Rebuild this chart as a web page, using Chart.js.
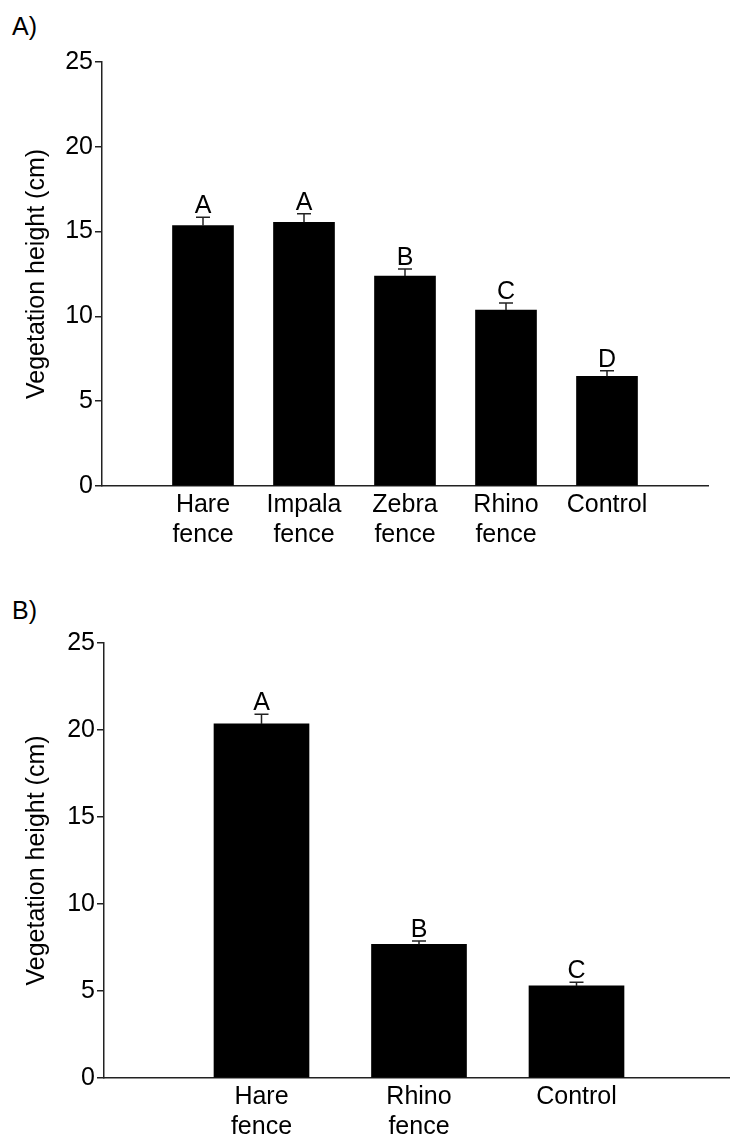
<!DOCTYPE html>
<html lang="en">
<head>
  <meta charset="UTF-8" />
  <title>Vegetation height</title>
  <script src="https://cdn.jsdelivr.net/npm/chart.js"></script>
  <style>
    body { margin: 0; background: #fff; font-family: "Liberation Sans", Arial, sans-serif; }
    #wrap { position: relative; width: 730px; height: 1137px; overflow: hidden; }
    .panel { position: absolute; left: 0; }
    .tag { position: absolute; left: 12px; font-size: 25px; line-height: 25px; color: #000; }
  </style>
</head>
<body>
  <div id="wrap">
    <div class="tag" style="top:14px">A)</div>
    <div class="panel" style="top:0"><canvas id="chart-a" width="730" height="566"></canvas></div>
    <div class="tag" style="top:598px">B)</div>
    <div class="panel" style="top:566px"><canvas id="chart-b" width="740" height="571"></canvas></div>
  </div>

  <script>
    // panel A
    const labelsA = ['', ['Hare', 'fence'], ['Impala', 'fence'], ['Zebra', 'fence'], ['Rhino', 'fence'], 'Control', ''];
    const heightA = [null, 15.35, 15.55, 12.38, 10.38, 6.47, null];
    const errA = [null, 0.5, 0.5, 0.42, 0.41, 0.33, null];
    const lettersA = ['', 'A', 'A', 'B', 'C', 'D', ''];

    // panel B
    const labelsB = ['', ['Hare', 'fence'], ['Rhino', 'fence'], 'Control', ''];
    const heightB = [null, 20.35, 7.68, 5.29, null];
    const errB = [null, 0.55, 0.19, 0.21, null];
    const lettersB = ['', 'A', 'B', 'C', ''];

    const yMin = 0, yMax = 25, yStep = 5;
    const yTitle = 'Vegetation height (cm)';
    const FONT = '"Liberation Sans", Arial, sans-serif';

    // error bar (upper half) + significance letter
    const errorPlugin = {
      id: 'errLetters',
      afterDatasetsDraw(chart) {
        const o = chart.options.plugins.errLetters;
        const ctx = chart.ctx;
        const xs = chart.scales.x, ys = chart.scales.y;
        const vals = chart.data.datasets[0].data;
        ctx.save();
        vals.forEach((v, i) => {
          if (v == null) return;
          const x = xs.getPixelForValue(i);
          const y0 = ys.getPixelForValue(v);
          const y1 = ys.getPixelForValue(v + o.err[i]);
          ctx.strokeStyle = '#222';
          ctx.lineWidth = 1.5;
          ctx.beginPath();
          ctx.moveTo(x, y0);
          ctx.lineTo(x, y1);
          ctx.moveTo(x - 7, y1);
          ctx.lineTo(x + 7, y1);
          ctx.stroke();
          ctx.fillStyle = '#000';
          ctx.font = '25px ' + FONT;
          ctx.textAlign = 'center';
          ctx.textBaseline = 'alphabetic';
          ctx.fillText(o.letters[i], x, y1 - 4);
        });
        ctx.restore();
      }
    };

    function makeChart(id, labels, data, err, letters, cfg) {
      return new Chart(document.getElementById(id), {
        type: 'bar',
        data: {
          labels,
          datasets: [{ data, backgroundColor: '#000', barThickness: cfg.barWidth }]
        },
        options: {
          responsive: false,
          animation: false,
          devicePixelRatio: 1,
          layout: { padding: { top: cfg.top, right: cfg.right, bottom: 0, left: 0 } },
          plugins: {
            legend: { display: false },
            tooltip: { enabled: false },
            errLetters: { err, letters }
          },
          scales: {
            x: {
              offset: false,
              grid: { display: false, offset: false },
              border: { display: true, color: '#222', width: 1.5 },
              ticks: {
                color: '#000', padding: -4, autoSkip: false, maxRotation: 0,
                font: { family: FONT, size: 25, lineHeight: 1.2 }
              },
              afterFit: s => { s.height = cfg.xHeight; }
            },
            y: {
              min: yMin, max: yMax,
              grid: { drawOnChartArea: false, drawTicks: true, tickLength: 7, color: '#222', lineWidth: 1.5 },
              border: { display: true, color: '#222', width: 1.5 },
              ticks: {
                stepSize: yStep, color: '#000', padding: 2,
                font: { family: FONT, size: 25 }
              },
              title: {
                display: true, text: yTitle, color: '#000',
                padding: { top: 22, bottom: 0 },
                font: { family: FONT, size: 25, lineHeight: 1.2 }
              },
              afterFit: s => { s.width = cfg.left; }
            }
          }
        },
        plugins: [errorPlugin]
      });
    }

    makeChart('chart-a', labelsA, heightA, errA, lettersA,
      { barWidth: 61, top: 62, right: 22, left: 102, xHeight: 80 });
    makeChart('chart-b', labelsB, heightB, errB, lettersB,
      { barWidth: 95, top: 77, right: 6, left: 104, xHeight: 59 });
  </script>
</body>
</html>
